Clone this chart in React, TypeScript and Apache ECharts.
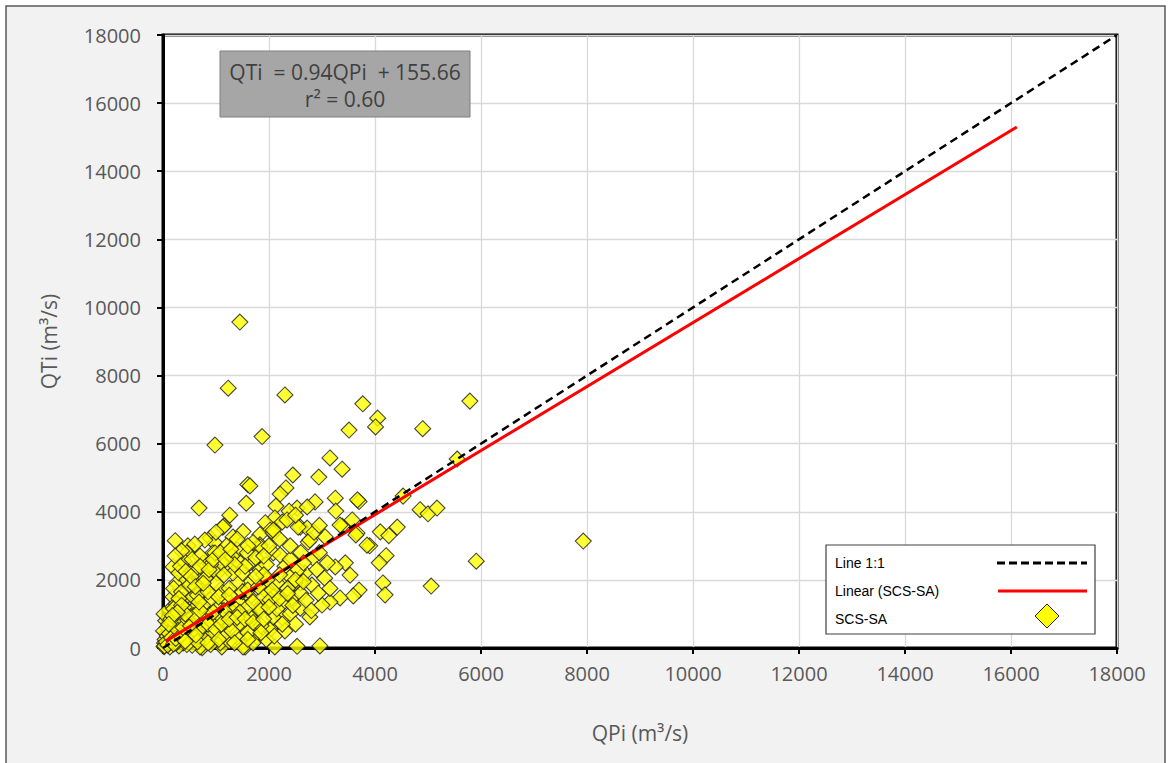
import React, { useEffect, useRef } from "react";
import * as echarts from "echarts";

// SCS-SA points: [QPi, QTi] in m³/s
const scsSaPoints: [number, number][] = [
  [1450, 9570], [1230, 7630], [2300, 7430], [3770, 7170], [5790, 7250], [4050, 6750], [4010, 6490],
  [3510, 6400], [4900, 6440], [1870, 6210], [980, 5960], [3150, 5580], [5550, 5550], [3380, 5250],
  [2450, 5080], [2940, 5020], [1600, 4800], [1640, 4760], [2320, 4700], [4530, 4460], [2210, 4520],
  [3250, 4400], [3700, 4300], [2870, 4290], [2130, 4170], [2530, 4110], [2720, 4140], [4850, 4060],
  [5000, 3940], [5170, 4110], [1570, 4250], [680, 4110], [3260, 4020], [2380, 4020], [1260, 3900],
  [2110, 3820], [1930, 3680], [2250, 3700], [1150, 3580], [2020, 3460], [2590, 3550], [2720, 3520],
  [4420, 3550], [3380, 3580], [3570, 3760], [3660, 3380], [1830, 3330], [2080, 3380], [4100, 3410],
  [4260, 3300], [3340, 3610], [3640, 3320], [1320, 3260], [3060, 3260], [2740, 3110], [1830, 3030],
  [890, 3230], [980, 3080], [230, 3150], [470, 3000], [3900, 3000], [4210, 2710], [4080, 2500],
  [7930, 3140], [5910, 2550], [3440, 2500], [3530, 2140], [4150, 1910], [4190, 1560], [5060, 1820],
  [3700, 1700], [3590, 1530], [3340, 1470], [3150, 1350], [3000, 1260], [2770, 910], [2590, 1170],
  [2430, 1470], [2810, 1850], [2930, 1610], [2830, 2640], [2680, 2200], [2590, 1910], [2260, 880],
  [2020, 590], [2110, 30], [2530, 50], [2960, 60], [1550, 30], [1110, 30], [740, 10], [2080, 2790],
  [2210, 2730], [1830, 2970], [2400, 2090], [2490, 1910], [2150, 1910], [1930, 1700], [2080, 1500],
  [1830, 1200], [1700, 910], [1510, 620], [1770, 680], [3250, 2380], [3850, 3020], [3670, 4350],
  [450, 2790], [190, 2380], [760, 2500], [940, 2790], [850, 2200],
  [1210, 2380], [1400, 2580], [1640, 2500], [1830, 2290], [1960, 2000], [1640, 1910], [1400, 1910],
  [1080, 1700], [760, 1700], [510, 1790], [260, 1910], [190, 1500], [380, 1410], [640, 1200],
  [510, 910], [830, 910], [1020, 1200], [1210, 1410], [1450, 1320], [1640, 1500], [1890, 1500],
  [1830, 1120], [1640, 910], [1450, 730], [1210, 620], [1020, 730], [760, 530], [570, 440],
  [380, 440], [260, 730], [130, 1120], [75, 440], [30, 150], [130, 30], [380, 150], [700, 30],
  [1080, 150], [1510, 30], [1400, 320], [1770, 320], [2020, 530], [2080, 910], [2020, 1410],
  [2060, 1700], [1320, 2200], [1020, 2200], [660, 2000], [570, 1500], [890, 1410], [1320, 1030],
  [1590, 1200], [320, 1030], [130, 730], [790, 3170], [980, 2790], [1130, 3550], [1400, 2880],
  [1590, 2790], [2080, 3460], [2340, 3760], [2550, 3550], [2770, 3170], [1510, 3420], [1700, 3100],
  [1300, 2700], [1100, 2500], [1500, 2200], [1750, 2650], [1950, 2450], [2300, 2400], [2400, 2600],
  [2600, 2800], [2550, 2300], [2200, 2150], [2350, 1750], [2250, 1300], [2150, 1150], [2400, 1000],
  [2600, 1600], [2700, 1400], [2800, 1100], [2500, 700], [2300, 500], [1950, 250], [1700, 150],
  [1250, 200], [900, 100], [550, 80], [300, 60], [150, 200], [60, 100], [20, 40], [100, 300],
  [200, 500], [300, 250], [450, 300], [600, 250], [800, 300], [950, 450], [1150, 400], [1300, 500],
  [1600, 450], [1850, 650], [1700, 1350], [1500, 1650], [1250, 1750], [1000, 1900], [800, 2050],
  [600, 2300], [400, 2550], [300, 2200], [200, 1750], [50, 800], [80, 600], [250, 900],
  [400, 700], [600, 650], [700, 900], [900, 800], [1100, 900], [1300, 1250], [1150, 1100],
  [950, 1050], [750, 1250], [550, 1100], [400, 1200], [250, 1300], [350, 1650], [450, 2000],
  [650, 1550], [850, 1650], [1050, 1500], [1250, 1550], [1450, 1050], [1600, 1700], [1800, 1800],
  [1900, 2150], [1750, 2100], [1550, 2400], [1350, 2450], [1150, 2150], [900, 2450], [700, 2700],
  [550, 2600], [350, 2850], [20, 1000], [10, 500], [40, 250], [120, 150],
  [180, 400], [220, 650], [300, 800], [350, 450], [480, 550], [520, 350], [650, 450], [720, 600],
  [850, 700], [1000, 550], [1100, 700], [1250, 850], [1400, 900], [1550, 850], [1700, 750],
  [1900, 850], [2000, 1200], [2200, 1450], [2350, 1600], [2500, 2000], [2650, 2500], [2400, 3000],
  [2200, 3200], [2000, 3000], [1900, 2700], [1600, 3000], [1400, 3200], [1200, 3000], [1000, 3400],
  [600, 3050], [700, 2400], [500, 1850], [300, 1450], [200, 1150], [150, 850], [80, 350], [250, 150],
  [450, 100], [650, 180], [850, 150], [1050, 250], [1350, 150], [1600, 250], [1850, 450], [2100, 350],
  [2250, 700], [2450, 1250], [2650, 1950], [2900, 2300], [3050, 2050], [3150, 1750], [2950, 2800],
  [3100, 2500], [2850, 3400], [2500, 3900], [2950, 3600], [30, 60], [60, 180], [90, 90], [120, 420],
  [160, 300], [200, 120], [240, 280], [280, 520], [330, 350], [380, 600], [420, 200], [470, 820],
  [520, 650], [580, 950], [620, 380], [700, 1100], [680, 1350], [420, 1000], [350, 1250], [270, 1050],
  [180, 950], [110, 700], [230, 2700], [330, 2400],
  [430, 2250], [530, 2100], [610, 1800], [760, 1900], [870, 2300], [950, 2600], [1080, 2800],
  [1180, 2600], [1280, 2900],
];

// Line 1:1 endpoints
const lineOneToOne: [number, number][] = [[0, 0], [18000, 18000]];

// Linear trend of SCS-SA: QTi = 0.94 QPi + 155.66
const fitSlope = 0.94;
const fitIntercept = 155.66;
const fitQpiRange = [50, 16110];
const fitLine: [number, number][] = fitQpiRange.map((x) => [x, fitSlope * x + fitIntercept]);

const axisTicks = { min: 0, max: 18000, interval: 2000 };

const equationLines = ["QTi  = 0.94QPi  + 155.66", "r² = 0.60"];
const legendLabels = ["Line 1:1", "Linear (SCS-SA)", "SCS-SA"];

export default function App() {
  const ref = useRef<HTMLDivElement>(null);
  useEffect(() => {
    if (!ref.current) return;
    const chart = echarts.init(ref.current, undefined, { renderer: "svg" });
    const labelFont = "'Open Sans', 'Noto Sans', sans-serif";
    const axisCommon = {
      type: "value" as const,
      min: axisTicks.min,
      max: axisTicks.max,
      interval: axisTicks.interval,
      axisLine: { show: true, onZero: false, lineStyle: { color: "#000", width: 3 } },
      axisTick: { show: true, inside: false, length: 6, lineStyle: { color: "#000", width: 2 } },
      splitLine: { show: true, lineStyle: { color: "#d9d9d9", width: 1.3 } },
      nameLocation: "middle" as const,
      nameTextStyle: { color: "#595959", fontSize: 21, fontFamily: labelFont },
    };
    const fmt = (v: number) => String(v);
    chart.setOption({
      animation: false,
      backgroundColor: "#ffffff",
      grid: {
        left: 163,
        top: 35,
        right: 56,
        bottom: 115,
        show: true,
        backgroundColor: "#ffffff",
        borderColor: "#000",
        borderWidth: 3,
      },
      xAxis: {
        ...axisCommon,
        name: "QPi (m³/s)",
        nameGap: 74,
        axisLabel: { color: "#595959", fontSize: 20, fontFamily: labelFont, margin: 15, formatter: fmt },
      },
      yAxis: {
        ...axisCommon,
        name: "QTi (m³/s)",
        nameGap: 104,
        axisLabel: { color: "#595959", fontSize: 20, fontFamily: labelFont, margin: 22, formatter: fmt },
      },
      series: [
        {
          name: "SCS-SA",
          type: "scatter",
          data: scsSaPoints,
          symbol: "diamond",
          symbolSize: 16,
          itemStyle: { color: "#ffff00", borderColor: "#1a1a1a", borderWidth: 1.1 },
          z: 2,
        },
        {
          name: "Linear (SCS-SA)",
          type: "line",
          data: fitLine,
          showSymbol: false,
          symbol: "none",
          lineStyle: { color: "#ff0000", width: 3 },
          z: 3,
        },
        {
          name: "Line 1:1",
          type: "line",
          data: lineOneToOne,
          showSymbol: false,
          symbol: "none",
          lineStyle: { color: "#000000", width: 2.5, type: [8, 5] },
          z: 4,
        },
      ],
      graphic: [
        {
          type: "rect",
          z: -100,
          silent: true,
          shape: { x: 6, y: 6, width: 1159, height: 800 },
          style: { fill: "#f2f2f2", stroke: "#595959", lineWidth: 1.5 },
        },
        {
          type: "rect",
          z: 10,
          shape: { x: 220, y: 51, width: 250, height: 66 },
          style: { fill: "#a6a6a6", stroke: "#7f7f7f", lineWidth: 1 },
        },
        {
          type: "text",
          z: 11,
          x: 345,
          y: 72,
          style: {
            text: equationLines[0],
            fill: "#404040",
            font: "21px 'Open Sans', 'Noto Sans', sans-serif",
            align: "center",
            verticalAlign: "middle",
          },
        },
        {
          type: "text",
          z: 11,
          x: 345,
          y: 99,
          style: {
            text: equationLines[1],
            fill: "#404040",
            font: "21px 'Open Sans', 'Noto Sans', sans-serif",
            align: "center",
            verticalAlign: "middle",
          },
        },
        {
          type: "rect",
          z: 10,
          shape: { x: 826, y: 545, width: 269, height: 89 },
          style: { fill: "#ffffff", stroke: "#404040", lineWidth: 1.2 },
        },
        ...legendLabels.map((t, i) => ({
          type: "text",
          z: 11,
          x: 835,
          y: 563 + i * 28,
          style: {
            text: t,
            fill: "#000",
            font: "14px 'Liberation Sans', Arial, sans-serif",
            verticalAlign: "middle",
          },
        })),
        {
          type: "line",
          z: 11,
          shape: { x1: 997, y1: 563, x2: 1087, y2: 563 },
          style: { stroke: "#000", lineWidth: 3, lineDash: [8, 4] },
        },
        {
          type: "line",
          z: 11,
          shape: { x1: 998, y1: 591, x2: 1087, y2: 591 },
          style: { stroke: "#ff0000", lineWidth: 3 },
        },
        {
          type: "polygon",
          z: 11,
          shape: { points: [[1047, 604], [1059, 616], [1047, 628], [1035, 616]] },
          style: { fill: "#ffff00", stroke: "#262626", lineWidth: 1 },
        },
      ],
    });
    return () => chart.dispose();
  }, []);
  return (
    <div
      ref={ref}
      style={{ position: "fixed", left: 0, top: 0, width: 1173, height: 763 }}
    />
  );
}
